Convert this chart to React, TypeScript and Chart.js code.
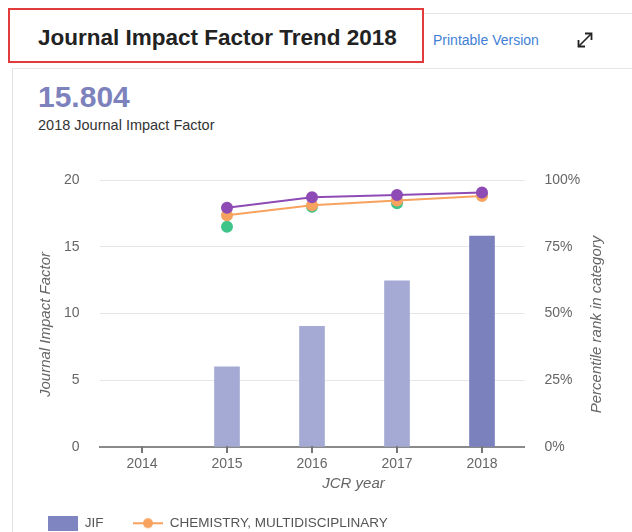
import React, { useEffect, useRef } from "react";
import { Chart, registerables } from "chart.js";

Chart.register(...registerables);

// ---- data ----
const years = ["2014", "2015", "2016", "2017", "2018"];
const jifValues = [null, 6.0, 9.034, 12.441, 15.804];
const chemMultiPct = [null, 86.8, 90.5, 92.3, 94.0];
const materialsMultiPct = [null, 82.5, 90.0, 91.3, 94.4];
const nanoPct = [null, 89.6, 93.5, 94.4, 95.3];

const seriesNames = [
  "JIF",
  "CHEMISTRY, MULTIDISCIPLINARY",
  "MATERIALS SCIENCE, MULTIDISCIPLINARY",
  "NANOSCIENCE & NANOTECHNOLOGY",
];

const JIF_MIN = 0;
const JIF_MAX = 20;
const JIF_STEP = 5;
const PCT_MIN = 0;
const PCT_MAX = 100;
const PCT_STEP = 25;

const currentYear = "2018";
const currentJif = "15.804";

const xTitle = "JCR year";
const leftTitle = "Journal Impact Factor";
const rightTitle = "Percentile rank in category";

// ---- styles ----
const FONT = "'Liberation Sans', Arial, Helvetica, sans-serif";
const BAR_LIGHT = "#a5aad4";
const BAR_DARK = "#7a81bd";
const ORANGE = "#f7a25f";
const GREEN = "#3fc48a";
const PURPLE = "#8e4bb5";
const TEXT_GRAY = "#666666";
const AXIS_GRAY = "#777777";

const axisDecorPlugin = {
  id: "axisDecorCustom",
  afterDraw(chart: any) {
    const { ctx, chartArea: a } = chart;
    const xs = chart.scales.x;
    ctx.save();
    // category tick marks below the x axis
    ctx.strokeStyle = AXIS_GRAY;
    ctx.lineWidth = 2;
    for (let i = 0; i < xs.ticks.length; i++) {
      const px = Math.round(xs.getPixelForTick(i));
      ctx.beginPath();
      ctx.moveTo(px, a.bottom - 1);
      ctx.lineTo(px, a.bottom + 6);
      ctx.stroke();
    }
    // axis titles
    ctx.fillStyle = TEXT_GRAY;
    ctx.font = `italic 15px ${FONT}`;
    ctx.textAlign = "center";
    ctx.textBaseline = "middle";
    ctx.fillText(xTitle, a.left + 254, a.bottom + 37);
    const midY = a.top + 144.5;
    ctx.save();
    ctx.translate(a.left - 53.5, midY);
    ctx.rotate(-Math.PI / 2);
    ctx.fillText(leftTitle, 0, 0);
    ctx.restore();
    ctx.save();
    ctx.translate(a.right + 72, midY);
    ctx.rotate(-Math.PI / 2);
    ctx.fillText(rightTitle, 0, 0);
    ctx.restore();
    ctx.restore();
  },
};

function makeBarSwatch() {
  const c = document.createElement("canvas");
  c.width = 30;
  c.height = 15;
  const g = c.getContext("2d")!;
  g.fillStyle = "#7e85c0";
  g.fillRect(0, 0, 30, 15);
  return c;
}

function makeLineSwatch(color: string) {
  const c = document.createElement("canvas");
  c.width = 30;
  c.height = 12;
  const g = c.getContext("2d")!;
  g.strokeStyle = color;
  g.lineWidth = 2;
  g.beginPath();
  g.moveTo(0, 6);
  g.lineTo(30, 6);
  g.stroke();
  g.fillStyle = color;
  g.beginPath();
  g.arc(15, 6, 5, 0, Math.PI * 2);
  g.fill();
  return c;
}

function TrendChart() {
  const ref = useRef<HTMLCanvasElement | null>(null);

  useEffect(() => {
    if (!ref.current) return;
    const barSwatch = makeBarSwatch();
    const lineSwatch = makeLineSwatch(ORANGE);
    const barColors = years.map((y) => (y === currentYear ? BAR_DARK : BAR_LIGHT));

    const chart = new Chart(ref.current, {
      type: "bar",
      data: {
        labels: years,
        datasets: [
          {
            type: "bar",
            label: seriesNames[0],
            data: jifValues,
            backgroundColor: barColors,
            barThickness: 25,
            yAxisID: "y",
            order: 10,
          } as any,
          {
            type: "line",
            label: seriesNames[1],
            data: chemMultiPct,
            borderColor: ORANGE,
            backgroundColor: ORANGE,
            pointBackgroundColor: ORANGE,
            pointBorderColor: ORANGE,
            borderWidth: 2,
            pointRadius: 5,
            pointHoverRadius: 5,
            tension: 0,
            yAxisID: "y1",
            order: 2,
          },
          {
            type: "line",
            label: seriesNames[2],
            data: materialsMultiPct,
            borderColor: GREEN,
            backgroundColor: GREEN,
            pointBackgroundColor: GREEN,
            pointBorderColor: GREEN,
            borderWidth: 2,
            showLine: false,
            pointRadius: 5,
            pointHoverRadius: 5,
            yAxisID: "y1",
            order: 3,
          },
          {
            type: "line",
            label: seriesNames[3],
            data: nanoPct,
            borderColor: PURPLE,
            backgroundColor: PURPLE,
            pointBackgroundColor: PURPLE,
            pointBorderColor: PURPLE,
            borderWidth: 2,
            pointRadius: 5,
            pointHoverRadius: 5,
            tension: 0,
            yAxisID: "y1",
            order: 1,
          },
        ],
      },
      options: {
        responsive: false,
        animation: false,
        devicePixelRatio: 1,
        events: [],
        layout: { padding: { left: 18.5, top: 30, right: 0, bottom: 0 } },
        plugins: {
          tooltip: { enabled: false },
          legend: {
            display: true,
            position: "bottom",
            align: "start",
            labels: {
              usePointStyle: true,
              pointStyleWidth: 30,
              padding: 29.5,
              color: "#555555",
              font: { size: 13.5, family: FONT },
              generateLabels(ch: any) {
                const items = (Chart as any).defaults.plugins.legend.labels.generateLabels(ch);
                return items
                  .filter((it: any) => it.datasetIndex <= 1)
                  .sort((p: any, q: any) => p.datasetIndex - q.datasetIndex)
                  .map((it: any) => ({
                    ...it,
                    pointStyle: it.datasetIndex === 0 ? barSwatch : lineSwatch,
                  }));
              },
            },
          },
        },
        scales: {
          x: {
            type: "category",
            offset: true,
            grid: { display: false, drawTicks: true, tickLength: 6 },
            border: { display: true, color: "#8a8a8a", width: 2 },
            ticks: { color: TEXT_GRAY, font: { size: 14, family: FONT }, padding: 3 },
            afterFit(s: any) {
              s.height = 40;
            },
          },
          y: {
            position: "left",
            min: JIF_MIN,
            max: JIF_MAX,
            ticks: {
              stepSize: JIF_STEP,
              color: TEXT_GRAY,
              font: { size: 14, family: FONT },
              padding: 20,
            },
            grid: { color: "#e6e6e6", lineWidth: 1, drawTicks: false },
            border: { display: false },
            afterFit(s: any) {
              s.width = 81;
            },
          },
          y1: {
            position: "right",
            min: PCT_MIN,
            max: PCT_MAX,
            ticks: {
              stepSize: PCT_STEP,
              color: TEXT_GRAY,
              font: { size: 14, family: FONT },
              padding: 20,
              callback: (v: any) => `${v}%`,
            },
            grid: { display: true, drawOnChartArea: false, drawTicks: false },
            border: { display: false },
            afterFit(s: any) {
              s.width = 107.5;
            },
          },
        },
      } as any,
      plugins: [axisDecorPlugin],
    });
    return () => chart.destroy();
  }, []);

  return (
    <canvas
      ref={ref}
      width={632}
      height={390}
      style={{ position: "absolute", left: 0, top: 150, width: 632, height: 390, display: "block" }}
    />
  );
}

export default function App() {
  return (
    <div
      style={{
        position: "fixed",
        left: 0,
        top: 0,
        width: 632,
        height: 532,
        overflow: "hidden",
        background: "#ffffff",
        fontFamily: FONT,
      }}
    >
      <div
        style={{
          position: "absolute",
          left: 12,
          top: 13,
          width: 620,
          height: 54,
          borderTop: "1px solid #e6e6e6",
          borderBottom: "1px solid #e6e6e6",
        }}
      />
      <div
        style={{
          position: "absolute",
          left: 12,
          top: 68,
          width: 620,
          height: 470,
          borderLeft: "1px solid #e3e3e3",
        }}
      />
      <div
        style={{
          position: "absolute",
          left: 8,
          top: 8,
          width: 412,
          height: 51,
          border: "2px solid #e23b3b",
          background: "#ffffff",
        }}
      />
      <div
        style={{
          position: "absolute",
          left: 38,
          top: 27,
          fontSize: 22.5,
          lineHeight: "22.5px",
          fontWeight: "bold",
          color: "#222222",
          whiteSpace: "nowrap",
        }}
      >
        Journal Impact Factor Trend {currentYear}
      </div>
      <div
        style={{
          position: "absolute",
          left: 433,
          top: 33,
          fontSize: 14,
          lineHeight: "14px",
          color: "#3f7fd6",
          whiteSpace: "nowrap",
        }}
      >
        Printable Version
      </div>
      <svg
        width={20}
        height={20}
        viewBox="0 0 20 20"
        style={{ position: "absolute", left: 575, top: 30 }}
      >
        <line x1={4} y1={16} x2={16} y2={4} stroke="#222" strokeWidth={1.6} />
        <polyline points="10,3.5 16.5,3.5 16.5,10" fill="none" stroke="#222" strokeWidth={1.8} />
        <polyline points="3.5,10 3.5,16.5 10,16.5" fill="none" stroke="#222" strokeWidth={1.8} />
      </svg>
      <div
        style={{
          position: "absolute",
          left: 38,
          top: 82,
          fontSize: 30,
          lineHeight: "30px",
          fontWeight: "bold",
          color: "#7d82bd",
          whiteSpace: "nowrap",
        }}
      >
        {currentJif}
      </div>
      <div
        style={{
          position: "absolute",
          left: 38,
          top: 118,
          fontSize: 14.5,
          lineHeight: "14.5px",
          color: "#333333",
          whiteSpace: "nowrap",
        }}
      >
        {currentYear} Journal Impact Factor
      </div>
      <TrendChart />
    </div>
  );
}
